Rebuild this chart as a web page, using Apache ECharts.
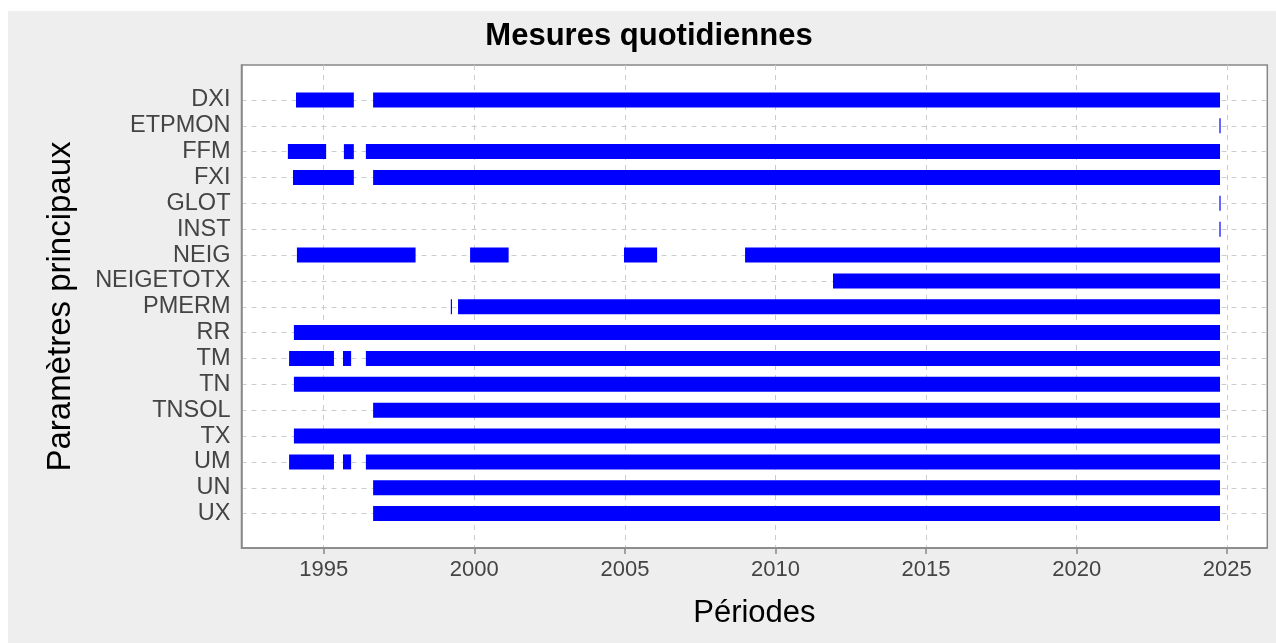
<!DOCTYPE html>
<html>
<head>
<meta charset="utf-8">
<script src="https://cdn.jsdelivr.net/npm/echarts@6/dist/echarts.min.js"></script>
<style>
  body { margin: 0; background: #ffffff; }
  #chart { position: absolute; left: 8px; top: 11px; width: 1268px; height: 632px; background: #eeeeee; }
</style>
</head>
<body>
<div id="chart"></div>
<script>
// parametres, de haut en bas
var params = ['DXI', 'ETPMON', 'FFM', 'FXI', 'GLOT', 'INST', 'NEIG', 'NEIGETOTX', 'PMERM',
  'RR', 'TM', 'TN', 'TNSOL', 'TX', 'UM', 'UN', 'UX'];

// periodes de mesure : [parametre, debut, fin] (annees decimales)
var periodes = [
  ['DXI', 1994.08, 1996.0], ['DXI', 1996.64, 2024.76],
  ['ETPMON', 2024.74, 2024.78],
  ['FFM', 1993.81, 1995.08], ['FFM', 1995.67, 1996.0], ['FFM', 1996.4, 2024.76],
  ['FXI', 1993.98, 1996.0], ['FXI', 1996.64, 2024.76],
  ['GLOT', 2024.74, 2024.78],
  ['INST', 2024.74, 2024.78],
  ['NEIG', 1994.11, 1998.05], ['NEIG', 1999.86, 2001.14], ['NEIG', 2004.97, 2006.07], ['NEIG', 2008.99, 2024.76],
  ['NEIGETOTX', 2011.91, 2024.76],
  ['PMERM', 1999.22, 1999.26], ['PMERM', 1999.46, 2024.76],
  ['RR', 1994.01, 2024.76],
  ['TM', 1993.85, 1995.34], ['TM', 1995.64, 1995.91], ['TM', 1996.4, 2024.76],
  ['TN', 1994.01, 2024.76],
  ['TNSOL', 1996.64, 2024.76],
  ['TX', 1994.01, 2024.76],
  ['UM', 1993.85, 1995.34], ['UM', 1995.64, 1995.91], ['UM', 1996.4, 2024.76],
  ['UN', 1996.64, 2024.76],
  ['UX', 1996.64, 2024.76]
];

var xTicks = [1995, 2000, 2005, 2010, 2015, 2020, 2025];
var yTicks = params.map(function (p, i) { return i; });

var data = periodes.map(function (p) {
  return [params.indexOf(p[0]), p[1], p[2]];
});

var chart = echarts.init(document.getElementById('chart'));

var option = {
  backgroundColor: 'transparent',
  animation: false,
  title: {
    text: 'Mesures quotidiennes',
    left: 636,
    textAlign: 'center',
    top: 5,
    textStyle: { fontFamily: 'Liberation Sans', fontSize: 31, fontWeight: 'bold', color: '#000' }
  },
  grid: {
    left: 233.5, right: 8.7, top: 54, bottom: 95,
    show: true,
    backgroundColor: '#ffffff',
    borderColor: '#888888',
    borderWidth: 1.5
  },
  xAxis: {
    type: 'value',
    min: 1992.27,
    max: 2026.33,
    name: 'Périodes',
    nameLocation: 'middle',
    nameGap: 50,
    nameTextStyle: { fontFamily: 'Liberation Sans', fontSize: 31, color: '#000' },
    axisLine: { show: true, onZero: false, lineStyle: { color: '#888888', width: 1.5 } },
    axisTick: { show: true, length: 6, customValues: xTicks, lineStyle: { color: '#888888', width: 1.5 } },
    axisLabel: {
      customValues: xTicks,
      margin: 11,
      fontFamily: 'Liberation Sans', fontSize: 22, color: '#444444',
      formatter: function (v) { return String(v); }
    },
    splitLine: { show: true, lineStyle: { color: '#cccccc', type: [5, 5], width: 1 } }
  },
  yAxis: {
    type: 'value',
    inverse: true,
    min: -1.35,
    max: 17.33,
    name: 'Paramètres principaux',
    nameLocation: 'middle',
    nameGap: 164,
    nameTextStyle: { fontFamily: 'Liberation Sans', fontSize: 33, color: '#000' },
    axisLine: { show: true, onZero: false, lineStyle: { color: '#888888', width: 1.5 } },
    axisTick: { show: false, customValues: yTicks },
    axisLabel: {
      customValues: yTicks,
      margin: 11,
      fontFamily: 'Liberation Sans', fontSize: 23.5, color: '#444444',
      formatter: function (v) { return params[v]; }
    },
    splitLine: { show: true, lineStyle: { color: '#cccccc', type: [5, 5], width: 1 } }
  },
  series: [{
    type: 'custom',
    renderItem: function (ctx, api) {
      var row = api.value(0);
      var a = api.coord([api.value(1), row]);
      var b = api.coord([api.value(2), row]);
      var h = api.size([0, 1])[1] * 0.58;
      var w = Math.max(b[0] - a[0], 1.2);
      return {
        type: 'rect',
        shape: { x: a[0], y: a[1] - h / 2, width: w, height: h },
        style: { fill: '#0000ff' }
      };
    },
    encode: { x: [1, 2], y: 0 },
    data: data
  }]
};

chart.setOption(option);
</script>
</body>
</html>
